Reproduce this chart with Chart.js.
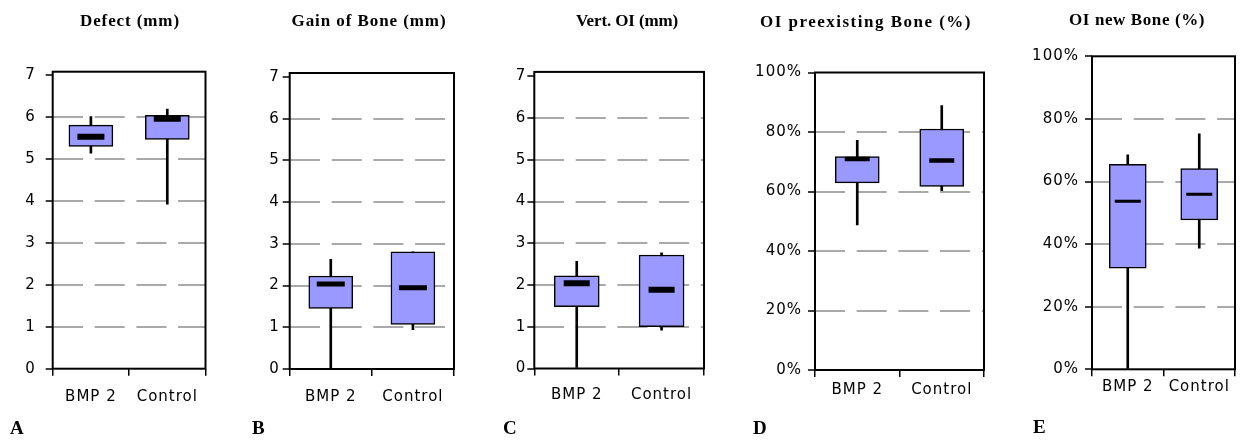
<!DOCTYPE html>
<html><head><meta charset="utf-8">
<script src="https://cdn.jsdelivr.net/npm/chart.js@4.4.0/dist/chart.umd.min.js"></script>
<style>
html,body{margin:0;padding:0;background:#fff;}
body{width:1250px;height:440px;position:relative;overflow:hidden;}
.panel{position:absolute;top:0;height:440px;}
.title{position:absolute;font:bold 17px "Liberation Serif",serif;white-space:nowrap;color:#000;line-height:20px;}
.letter{position:absolute;font:bold 19px "Liberation Serif",serif;color:#000;line-height:20px;}
</style></head><body>
<script>
// ---------- data ----------
const categories = ['BMP 2', 'Control'];
const panelTitles = ['Defect (mm)', 'Gain of Bone (mm)', 'Vert. OI (mm)', 'OI preexisting Bone (%)', 'OI new Bone (%)'];
const panelLetters = ['A', 'B', 'C', 'D', 'E'];
const mmTickValues = [0, 1, 2, 3, 4, 5, 6, 7];
const pctTickValues = [0, 20, 40, 60, 80, 100];

// A: Defect (mm)
const defectMin    = [5.13, 3.92];
const defectQ1     = [5.29, 5.46];
const defectMedian = [5.52, 5.95];
const defectQ3     = [5.80, 6.03];
const defectMax    = [6.00, 6.18];
// B: Gain of Bone (mm)
const gainMin    = [0.00, 0.94];
const gainQ1     = [1.45, 1.07];
const gainMedian = [2.04, 1.95];
const gainQ3     = [2.23, 2.81];
const gainMax    = [2.63, 2.81];
// C: Vert. OI (mm)
const vertMin    = [0.00, 0.92];
const vertQ1     = [1.48, 1.00];
const vertMedian = [2.04, 1.89];
const vertQ3     = [2.22, 2.72];
const vertMax    = [2.57, 2.77];
// D: OI preexisting Bone (%)
const preMin    = [48.8, 60.3];
const preQ1     = [62.9, 61.7];
const preMedian = [70.9, 70.4];
const preQ3     = [71.7, 81.0];
const preMax    = [77.2, 88.9];
// E: OI new Bone (%)
const newMin    = [0.0, 38.7];
const newQ1     = [32.3, 47.7];
const newMedian = [53.7, 55.9];
const newQ3     = [65.5, 64.1];
const newMax    = [68.5, 75.2];

// ---------- layout (positions / styles) ----------
const geo = [
  {L: 52.7, R: 221.3, T: 74.7, B: 368.7, lift: 3,   yPad: 10, xPad: 12, boxW: 44, medW: 27, medT: 6},
  {L: 289.7, R: 469.3, T: 77.0, B: 369.0, lift: 4,  yPad: 3,  xPad: 12, boxW: 44, medW: 28, medT: 5},
  {L: 534.3, R: 720.0, T: 76.4, B: 368.5, lift: 4.5,yPad: 1,  xPad: 11, boxW: 45, medW: 26, medT: 6},
  {L: 815.0, R: 997.7, T: 72.5, B: 370.0, lift: 0,  yPad: 6,  xPad: 4,  boxW: 44, medW: 25, medT: 4.5},
  {L: 1092.0, R: 1247.3, T: 56.3, B: 369.3, lift: 0,yPad: 6,  xPad: 2,  boxW: 37, medW: 26, medT: 3}
];
const titleGeo = [
  {cx: 130, cy: 21, w: 100}, {cx: 369, cy: 21, w: 155}, {cx: 627, cy: 21, w: 102},
  {cx: 866, cy: 22, w: 212}, {cx: 1137, cy: 20, w: 136}
];
const letterGeo = [{x: 10, y: 427.5}, {x: 252, y: 427.5}, {x: 503, y: 427.5}, {x: 753, y: 427.5}, {x: 1033, y: 427}];

const panels = [
  {min: defectMin, q1: defectQ1, med: defectMedian, q3: defectQ3, max: defectMax, ticks: mmTickValues, pct: false},
  {min: gainMin, q1: gainQ1, med: gainMedian, q3: gainQ3, max: gainMax, ticks: mmTickValues, pct: false},
  {min: vertMin, q1: vertQ1, med: vertMedian, q3: vertQ3, max: vertMax, ticks: mmTickValues, pct: false},
  {min: preMin, q1: preQ1, med: preMedian, q3: preQ3, max: preMax, ticks: pctTickValues, pct: true},
  {min: newMin, q1: newQ1, med: newMedian, q3: newQ3, max: newMax, ticks: pctTickValues, pct: true}
];

const tickFont = {family: 'DejaVu Sans', size: 15};

const spacingPlugin = {
  id: 'letterSpacing',
  beforeLayout(c) { c.ctx.letterSpacing = '1px'; },
  beforeDraw(c) { c.ctx.letterSpacing = '1px'; }
};
function framePlugin(lift) {
  return {
    id: 'frame',
    afterDatasetsDraw(chart) {
      const {ctx, chartArea: a} = chart;
      ctx.save();
      ctx.strokeStyle = '#000';
      ctx.lineWidth = 2;
      ctx.strokeRect(a.left, a.top - lift, a.right - a.left, a.bottom - a.top + lift);
      ctx.restore();
    }
  };
}

panels.forEach((p, idx) => {
  const g = geo[idx];
  const left = Math.floor(g.L - 72);
  const right = Math.ceil(g.R + 3);
  const w = right - left;
  const div = document.createElement('div');
  div.className = 'panel';
  div.style.left = left + 'px';
  div.style.width = w + 'px';
  const cv = document.createElement('canvas');
  cv.width = w; cv.height = 440;
  cv.style.width = w + 'px'; cv.style.height = '440px';
  div.appendChild(cv);
  document.body.appendChild(div);
  const yAxisW = g.L - left;
  const topVal = p.ticks[p.ticks.length - 1];
  const fmt = p.pct ? (v => v + '%') : (v => String(v));

  new Chart(cv, {
    type: 'bar',
    data: {
      labels: categories,
      datasets: [
        {
          type: 'line', label: 'Median', data: p.med, showLine: false,
          pointStyle: 'line', pointRadius: g.medW / 2, pointHoverRadius: g.medW / 2,
          pointBorderWidth: g.medT, pointHoverBorderWidth: g.medT,
          pointBorderColor: '#000', pointBackgroundColor: '#000', borderColor: '#000', order: 0
        },
        {
          label: 'Box', data: categories.map((c, i) => [p.q1[i], p.q3[i]]),
          backgroundColor: '#9999ff', borderColor: '#000', borderWidth: 1.5, borderSkipped: false,
          barThickness: g.boxW, grouped: false, order: 1
        },
        {
          label: 'Whisker', data: categories.map((c, i) => [p.min[i], p.max[i]]),
          backgroundColor: '#000', borderWidth: 0, barThickness: 2, grouped: false, order: 2
        }
      ]
    },
    options: {
      responsive: false, animation: false, events: [],
      layout: {padding: {top: g.T, right: right - g.R, bottom: 0, left: 0}},
      plugins: {legend: {display: false}, tooltip: {enabled: false}, title: {display: false}},
      scales: {
        x: {
          offset: true,
          grid: {offset: true, drawOnChartArea: false, drawTicks: true, tickLength: 7,
                 tickColor: '#000', tickWidth: 1.5, lineWidth: 1.5, color: '#000'},
          border: {display: false},
          ticks: {font: tickFont, color: '#000', padding: g.xPad, maxRotation: 0, autoSkip: false},
          afterFit: s => { s.height = 440 - g.B; }
        },
        y: {
          min: 0, max: topVal,
          afterBuildTicks: s => { s.ticks = p.ticks.map(v => ({value: v})); },
          grid: {
            color: c => (c.tick && (c.tick.value === 0 || c.tick.value === topVal)) ? 'rgba(0,0,0,0)' : '#a9a9a9',
            lineWidth: 2, tickLength: 7, tickColor: '#000', tickWidth: 1.5
          },
          border: {display: false, dash: [30, 11.7]},
          ticks: {font: tickFont, color: '#000', padding: g.yPad, callback: v => fmt(v)},
          afterFit: s => { s.width = yAxisW; }
        }
      }
    },
    plugins: [spacingPlugin, framePlugin(g.lift)]
  });
});

panelTitles.forEach((t, i) => {
  const tg = titleGeo[i];
  const el = document.createElement('div');
  el.className = 'title';
  el.textContent = t;
  el.style.top = (tg.cy - 10) + 'px';
  el.style.left = (tg.cx - tg.w / 2) + 'px';
  document.body.appendChild(el);
  const w0 = el.getBoundingClientRect().width;
  const ls = (tg.w - w0) / t.length;
  el.style.letterSpacing = ls + 'px';
});
panelLetters.forEach((t, i) => {
  const el = document.createElement('div');
  el.className = 'letter';
  el.textContent = t;
  el.style.left = letterGeo[i].x + 'px';
  el.style.top = (letterGeo[i].y - 10) + 'px';
  document.body.appendChild(el);
});
</script>
</body></html>
